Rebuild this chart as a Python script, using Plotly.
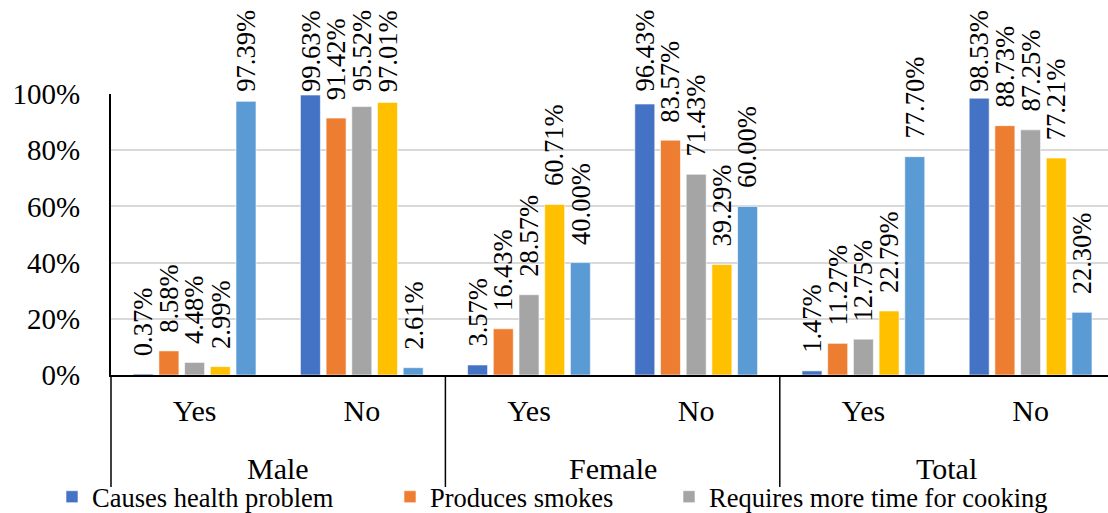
import plotly.graph_objects as go

# ---- data -------------------------------------------------------------
groups = ["Male", "Female", "Total"]
answers = ["Yes", "No", "Yes", "No", "Yes", "No"]

series_names = [
    "Causes health problem",
    "Produces smokes",
    "Requires more time for cooking",
    "Series 4",
    "Series 5",
]
causes_health = [0.37, 99.63, 3.57, 96.43, 1.47, 98.53]
produces_smokes = [8.58, 91.42, 16.43, 83.57, 11.27, 88.73]
more_cooking_time = [4.48, 95.52, 28.57, 71.43, 12.75, 87.25]
series_4 = [2.99, 97.01, 60.71, 39.29, 22.79, 77.21]
series_5 = [97.39, 2.61, 40.00, 60.00, 77.70, 22.30]

y_ticks = [0, 20, 40, 60, 80, 100]
y_tick_labels = [f"{t}%" for t in y_ticks]

# ---- styling / layout constants ---------------------------------------
colors = ["#4472C4", "#ED7D31", "#A5A5A5", "#FFC000", "#5B9BD5"]
FONT = "Times New Roman"
W, H = 1108, 513
ML, MR, MT, MB = 111, 0, 94, 138
PW, PH = W - ML - MR, H - MT - MB
X_RANGE = [-0.5, 5.463]
BARGAP, BARGROUPGAP = 0.2315, 0.222
LABEL_SIZE = 26.5
LEGEND_SIZE = 26.5

all_series = [causes_health, produces_smokes, more_cooking_time, series_4, series_5]
x_pos = list(range(len(answers)))

fig = go.Figure()
for k, (name, vals) in enumerate(zip(series_names, all_series)):
    fig.add_trace(go.Bar(
        x=x_pos, y=vals, name=name,
        marker=dict(color=colors[k], line=dict(color="white", width=0.6)),
        showlegend=k < 3,
        legend=["legend", "legend2", "legend3", "legend", "legend"][k],
        hoverinfo="skip",
    ))

# value labels, rotated, sitting above each bar (kept inside the page top)
cat_px = PW / (X_RANGE[1] - X_RANGE[0])
slot_px = cat_px * (1 - BARGAP) / len(all_series)
char_em = {".": 0.25, "%": 0.833}
annotations = []
for k, vals in enumerate(all_series):
    for i, v in enumerate(vals):
        txt = f"{v:.2f}%"
        length = sum(char_em.get(c, 0.5) for c in txt) * LABEL_SIZE + 2
        bar_top = MT + (100 - v) / 100 * PH
        shift = min(16, bar_top - 10 - length)
        annotations.append(dict(
            x=i, y=v, xref="x", yref="y", text=txt, showarrow=False,
            textangle=-90, xanchor="center", yanchor="bottom",
            xshift=(k - 2) * slot_px, yshift=shift,
            font=dict(family=FONT, size=LABEL_SIZE, color="black"),
        ))

# outer category labels
for g, name in enumerate(groups):
    annotations.append(dict(
        x=2 * g + 0.5, y=-(468 - (MT + PH)) / PH, xref="x", yref="paper",
        text=name, showarrow=False, xanchor="center", yanchor="middle",
        font=dict(family=FONT, size=30, color="black"),
    ))

# vertical dividers between the outer categories
shapes = []
for b in [-0.5, 1.5, 3.5, 5.5]:
    px = (b - X_RANGE[0]) / (X_RANGE[1] - X_RANGE[0])
    if px > 1:
        continue
    shapes.append(dict(
        type="line", xref="paper", yref="paper", x0=px, x1=px,
        y0=0, y1=-(487 - (MT + PH)) / PH,
        line=dict(color="black", width=1.5),
    ))

legend_common = dict(
    orientation="h", yanchor="middle", xanchor="left",
    y=-(497 - (MT + PH)) / PH, bgcolor="rgba(0,0,0,0)",
    font=dict(family=FONT, size=LEGEND_SIZE, color="black"),
)
legend_x = [(c - 26 - ML) / PW for c in (78, 416, 695)]

fig.update_layout(
    width=W, height=H,
    margin=dict(l=ML, r=MR, t=MT, b=MB, autoexpand=False),
    paper_bgcolor="white", plot_bgcolor="white",
    barmode="group", bargap=BARGAP, bargroupgap=BARGROUPGAP,
    xaxis=dict(
        range=X_RANGE, tickvals=x_pos, ticktext=answers,
        showgrid=False, zeroline=False, ticks="",
        showline=True, linecolor="black", linewidth=2,
        tickfont=dict(family=FONT, size=30, color="black"),
        ticklabelstandoff=8,
    ),
    yaxis=dict(
        range=[0, 100], tickvals=y_ticks, ticktext=y_tick_labels,
        showgrid=True, gridcolor="#D9D9D9", gridwidth=1.5,
        zeroline=False, ticks="",
        showline=True, linecolor="black", linewidth=2,
        tickfont=dict(family=FONT, size=29, color="black"),
        ticklabelstandoff=23,
    ),
    legend=dict(x=legend_x[0], **legend_common),
    legend2=dict(x=legend_x[1], **legend_common),
    legend3=dict(x=legend_x[2], **legend_common),
    annotations=annotations,
    shapes=shapes,
)

fig.write_html("out.html")
